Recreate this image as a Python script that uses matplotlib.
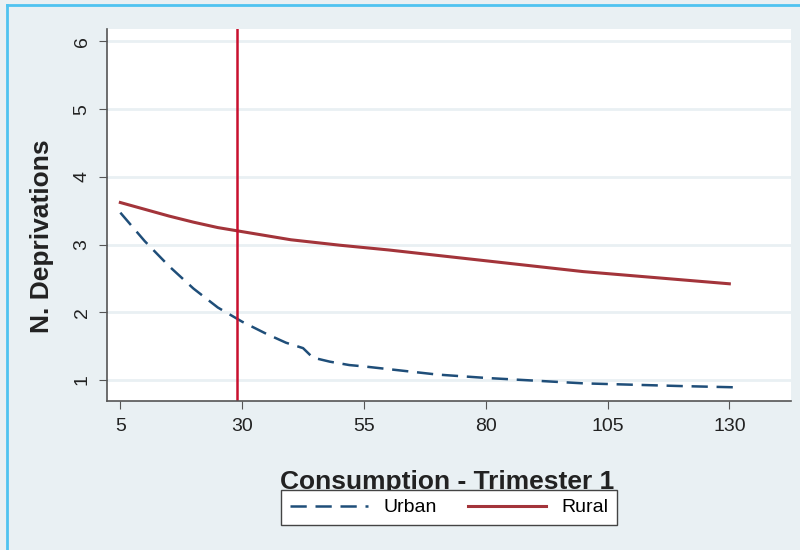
import matplotlib
matplotlib.use('Agg')
from matplotlib import pyplot as plt
from matplotlib.lines import Line2D

plt.rcParams['font.family'] = ['Liberation Sans', 'DejaVu Sans']

# values
urban_x = [5, 10, 15, 20, 25, 30, 35, 39, 42.5, 44.5, 48, 52, 55, 60, 70, 80, 90, 100, 110, 120, 132]
urban_y = [3.47, 3.05, 2.68, 2.35, 2.07, 1.86, 1.68, 1.55, 1.47, 1.33, 1.27, 1.22, 1.2, 1.16, 1.08, 1.03, 0.99, 0.95, 0.93, 0.91, 0.89]
rural_x = [5, 10, 15, 20, 25, 30, 40, 50, 60, 70, 80, 90, 100, 110, 120, 130]
rural_y = [3.62, 3.52, 3.42, 3.33, 3.25, 3.19, 3.07, 2.99, 2.92, 2.84, 2.76, 2.68, 2.6, 2.54, 2.48, 2.42]
cutoff = 29.0
x_ticks = [5, 30, 55, 80, 105, 130]
y_ticks = [1, 2, 3, 4, 5, 6]

bg = '#e9f0f3'
fig = plt.figure(figsize=(8, 5.5), dpi=100, facecolor=bg)
ax = fig.add_axes([0.134, 0.271, 0.855, 0.676])
ax.set_facecolor('white')

ax.plot(urban_x, urban_y, color='#1f4e79', lw=1.8, ls=(0, (6.5, 3.5)), label='Urban')
ax.plot(rural_x, rural_y, color='#a3343a', lw=2.2, label='Rural')
ax.axvline(cutoff, color='#c8102e', lw=1.8)

ax.set_xlim(2.3, 142.7)
ax.set_ylim(0.69, 6.18)
ax.set_xticks(x_ticks)
ax.set_yticks(y_ticks)
ax.grid(axis='y', color=bg, lw=2)
ax.set_axisbelow(True)
for s in ['top', 'right']:
    ax.spines[s].set_visible(False)
for s in ['left', 'bottom']:
    ax.spines[s].set_color('#555555')
    ax.spines[s].set_linewidth(1.2)
ax.tick_params(axis='both', labelsize=14, length=6, color='#555555', pad=6, labelcolor='#222222')
for lab in ax.get_yticklabels():
    lab.set_rotation(90)
    lab.set_va('center')

fig.text(0.0525, 0.57, 'N. Deprivations', rotation=90, ha='center', va='center',
         fontsize=19, fontweight='bold', color='#222222')
fig.text(0.559, 0.124, 'Consumption - Trimester 1', ha='center', va='center',
         fontsize=19, fontweight='bold', color='#222222')

leg = fig.legend(loc='center', bbox_to_anchor=(0.5616, 0.077), ncol=2, fontsize=14,
                 frameon=True, fancybox=False, edgecolor='#444444', framealpha=1,
                 handlelength=4.0, columnspacing=1.6, borderpad=0.45, handletextpad=0.8)
leg.get_frame().set_linewidth(1.0)

# thin blue border on top and left
fig.add_artist(Line2D([0.009, 1], [0.991, 0.991], color='#4fc3f0', lw=2, transform=fig.transFigure))
fig.add_artist(Line2D([0.009, 0.009], [0, 0.991], color='#4fc3f0', lw=2, transform=fig.transFigure))

fig.savefig('out.png', dpi=100, facecolor=bg)
